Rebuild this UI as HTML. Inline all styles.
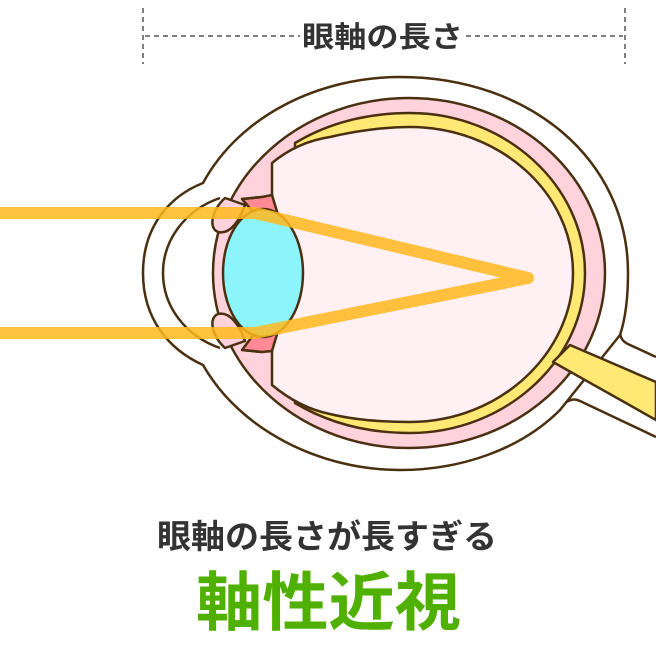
<!DOCTYPE html>
<html><head><meta charset="utf-8"><style>html,body{margin:0;padding:0;background:#fff}svg{display:block}</style></head>
<body>
<svg width="656" height="656" viewBox="0 0 656 656" xmlns="http://www.w3.org/2000/svg">
<g stroke="#4a3010" stroke-width="2.5" stroke-linejoin="round">
<!-- optic nerve sheath -->
<path d="M600,320 C620,330 618,340 625,342 L656,357 L656,437 L578,402 C570,398 565,402 540,420 Z" fill="#fff" stroke="none"/>
<path d="M620,315 C620,335 618,340 630,345 L656,357" fill="none"/>
<path d="M656,437 L580,401 C572,397 566,400 548,418" fill="none"/>
<!-- outer white body -->
<path d="M400,77 C530,77 628,160 628,273 C628,300 625,320 620,335 L560,410 C520,450 460,470 400,470 C320,470 240,430 203,365 C170,350 143,320 143,273 C143,226 170,196 203,183 C240,115 320,77 400,77 Z" fill="#fff"/>
<!-- sclera pink -->
<ellipse cx="409" cy="273" rx="196" ry="175" fill="#ffd2dc"/>
<!-- yellow retina band -->
<path d="M295,143 C330,122 370,113 410,113 C505,113 585,185 585,273 C585,361 505,433 410,433 C370,433 330,424 295,403 Z" fill="#ffe873"/>
<!-- optic nerve -->
<path d="M570,345 L656,382 L656,420 L553,362 Z" fill="#ffe873"/>
<!-- vitreous -->
<path d="M272,163 C290,148 310,140 330,137 C355,131 385,127 410,127 C500,127 573,193 573,273 C573,353 500,422 410,422 C385,422 355,420 330,414 C310,410 290,400 272,385 Z" fill="#fff0f3"/>
<!-- cornea inner curve -->
<path d="M220,198 C185,210 163,240 163,273 C163,306 185,336 220,348" fill="none"/>
<!-- iris blobs -->
<path d="M225,198 C212,210 208,228 218,232 C230,235 240,220 245,205 Z" fill="#ffd2dc"/>
<path d="M225,348 C212,336 208,318 218,314 C230,311 240,326 245,341 Z" fill="#ffd2dc"/>
<!-- ciliary -->
<path d="M242,199 L262,197 L272,195 L278,215 L260,220 Z" fill="#ff8a96"/>
<path d="M242,350 L262,352 L272,351 L278,331 L260,326 Z" fill="#ff8a96"/>
<path d="M242,199 L262,197 M242,350 L262,352" fill="none"/>
<!-- lens -->
<ellipse cx="263" cy="273" rx="40" ry="64" fill="#8cf5fc"/>
</g>
<!-- light rays -->
<g fill="none" stroke="#ffb81c" stroke-opacity="0.85" stroke-width="12" stroke-linejoin="round" stroke-linecap="round">
<path d="M-10,213 L255,213 L528,278 L255,333 L-10,333"/>
</g>
<!-- dimension line -->
<g stroke="#555" stroke-width="1.5" stroke-dasharray="5,4" fill="none">
<line x1="143" y1="8" x2="143" y2="64"/>
<line x1="625" y1="8" x2="625" y2="64"/>
<line x1="145" y1="36" x2="300" y2="36"/>
<line x1="466" y1="36" x2="623" y2="36"/>
</g>
<g font-family="'Liberation Sans','Noto Sans CJK JP',sans-serif" font-weight="bold">
<text x="302" y="47" font-size="29" fill="#333" textLength="161" lengthAdjust="spacingAndGlyphs">眼軸の長さ</text>
<text x="157" y="548" font-size="33" fill="#333" textLength="340" lengthAdjust="spacingAndGlyphs">眼軸の長さが長すぎる</text>
<text x="196" y="625" font-size="64" fill="#4fb000" textLength="265" lengthAdjust="spacingAndGlyphs">軸性近視</text>
</g>
</svg>
</body></html>
